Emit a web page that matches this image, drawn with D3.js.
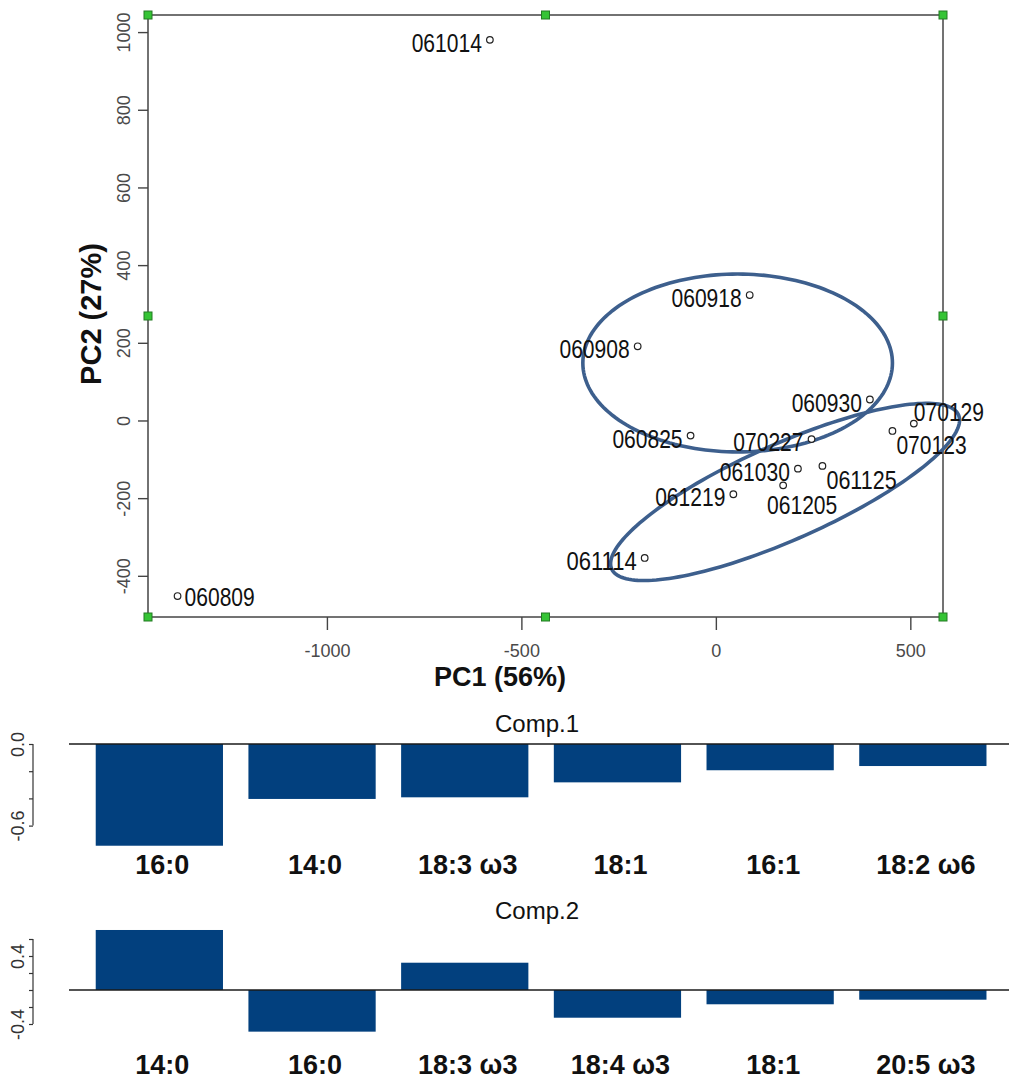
<!DOCTYPE html>
<html>
<head>
<meta charset="utf-8">
<script src="https://cdn.jsdelivr.net/npm/d3@7"></script>
<style>
  body { margin: 0; background: #fff; }
  svg { display: block; }
</style>
</head>
<body>
<svg id="chart" width="1009" height="1082"></svg>
<script>
// PCA scores per sampling date (yymmdd)
const samples = ["060809","060825","060908","060918","060930","061014","061030",
                 "061114","061125","061205","061219","070123","070129","070227"];
const pc1Scores = [-1384, -65, -201, 87, 396, -581, 211, -183, 274, 173, 45, 454, 509, 246];
const pc2Scores = [-452, -39, 191, 323, 54, 980, -124, -354, -117, -167, -190, -27, -8, -48];

// Axis limits and ticks of the score plot
const xLimits = [-1460, 584];
const yLimits = [-506, 1044];
const xTicks = [-1000, -500, 0, 500];
const yTicks = [-400, -200, 0, 200, 400, 600, 800, 1000];

// Group ellipses (data units): centre, semi-axes, rotation in degrees
const ellipseCx = [56, 178];
const ellipseCy = [148, -184];
const ellipseRx = [398, 488];
const ellipseRy = [229, 123];
const ellipseAngle = [0, 24];

// Loadings of the top six fatty acids on each component
const comp1Acids = ["16:0", "14:0", "18:3 ω3", "18:1", "16:1", "18:2 ω6"];
const comp1Loadings = [-0.748, -0.404, -0.392, -0.282, -0.193, -0.162];
const comp1Ticks = [0, -0.2, -0.4, -0.6];
const comp1TickLabels = ["0.0", "", "", "-0.6"];

const comp2Acids = ["14:0", "16:0", "18:3 ω3", "18:4 ω3", "18:1", "20:5 ω3"];
const comp2Loadings = [0.706, -0.49, 0.321, -0.326, -0.168, -0.114];
const comp2Ticks = [0.6, 0.4, 0.2, 0, -0.2, -0.4];
const comp2TickLabels = ["", "0.4", "", "", "", "-0.4"];

const svg = d3.select("#chart");
svg.append("rect").attr("width", 1009).attr("height", 1082).attr("fill", "#fff");

// ---------- score plot ----------
const plot = { left: 148, right: 943, top: 15, bottom: 617 };
const x = d3.scaleLinear().domain(xLimits).range([plot.left, plot.right]);
const y = d3.scaleLinear().domain(yLimits).range([plot.bottom, plot.top]);

const axisColor = "#444";
const tickFont = "'Liberation Sans', Arial, sans-serif";

const scatter = svg.append("g");

// x axis
const xAxis = scatter.append("g")
  .attr("transform", `translate(0,${plot.bottom})`)
  .call(d3.axisBottom(x).tickValues(xTicks).tickSize(13).tickPadding(14).tickFormat(d3.format("d")));
xAxis.select(".domain").remove();
xAxis.selectAll("line").attr("stroke", axisColor).attr("stroke-width", 1.4);
xAxis.selectAll("text").attr("fill", "#4a4a4a").attr("font-size", 18)
  .attr("font-family", tickFont).text(d => d < 0 ? "-" + Math.abs(d) : d);

// y axis with rotated labels
const yAxis = scatter.append("g")
  .attr("transform", `translate(${plot.left},0)`)
  .call(d3.axisLeft(y).tickValues(yTicks).tickSize(10).tickFormat(d => d < 0 ? "-" + Math.abs(d) : d));
yAxis.select(".domain").remove();
yAxis.selectAll("line").attr("stroke", axisColor).attr("stroke-width", 1.4);
yAxis.selectAll("text")
  .attr("fill", "#4a4a4a").attr("font-size", 18).attr("font-family", tickFont)
  .attr("x", null).attr("dy", null)
  .attr("text-anchor", "middle")
  .attr("transform", "translate(-24,0) rotate(-90)")
  .attr("dominant-baseline", "central");

// frame
scatter.append("rect")
  .attr("x", plot.left).attr("y", plot.top)
  .attr("width", plot.right - plot.left).attr("height", plot.bottom - plot.top)
  .attr("fill", "none").attr("stroke", axisColor).attr("stroke-width", 1.5);

// axis titles
scatter.append("text")
  .attr("x", 500).attr("y", 686)
  .attr("text-anchor", "middle")
  .attr("font-family", tickFont).attr("font-weight", "bold").attr("font-size", 27)
  .attr("fill", "#111").text("PC1 (56%)");
scatter.append("text")
  .attr("transform", "translate(101,314) rotate(-90)")
  .attr("text-anchor", "middle")
  .attr("font-family", tickFont).attr("font-weight", "bold").attr("font-size", 29)
  .attr("fill", "#111").text("PC2 (27%)");

// group ellipses
const ellipsePath = (cx, cy, rx, ry, deg) => {
  const th = deg * Math.PI / 180;
  const pts = d3.range(0, 2 * Math.PI, Math.PI / 90).map(t => {
    const u = rx * Math.cos(t), v = ry * Math.sin(t);
    return [x(cx + u * Math.cos(th) - v * Math.sin(th)),
            y(cy + u * Math.sin(th) + v * Math.cos(th))];
  });
  return d3.line().curve(d3.curveLinearClosed)(pts);
};
scatter.append("g").selectAll("path")
  .data(d3.range(ellipseCx.length))
  .join("path")
  .attr("d", i => ellipsePath(ellipseCx[i], ellipseCy[i], ellipseRx[i], ellipseRy[i], ellipseAngle[i]))
  .attr("fill", "none").attr("stroke", "#3d5f8d").attr("stroke-width", 3.6);

// sample points
const pts = samples.map((s, i) => ({ id: s, px: pc1Scores[i], py: pc2Scores[i] }));
scatter.append("g").selectAll("circle")
  .data(pts).join("circle")
  .attr("cx", d => x(d.px)).attr("cy", d => y(d.py)).attr("r", 3.3)
  .attr("fill", "#fff").attr("stroke", "#222").attr("stroke-width", 1.2);

// label placement around each point
const place = {
  w:  { anchor: "end",    dx: -8, dy: 3 },
  e:  { anchor: "start",  dx: 7,  dy: 1 },
  ne: { anchor: "start",  dx: 0,  dy: -12 },
  se: { anchor: "start",  dx: 4,  dy: 14 },
  s:  { anchor: "middle", dx: 19, dy: 20 }
};
const labelSide = { "060809": "e", "070129": "ne", "070123": "se", "061125": "se", "061205": "s" };
scatter.append("g").selectAll("text")
  .data(pts).join("text")
  .each(function (d) {
    const p = place[labelSide[d.id] || "w"];
    d3.select(this)
      .attr("x", x(d.px) + p.dx).attr("y", y(d.py) + p.dy)
      .attr("text-anchor", p.anchor);
  })
  .attr("dominant-baseline", "central")
  .attr("font-family", tickFont)
  .attr("font-size", 25).attr("fill", "#111")
  .attr("textLength", d => d.id.length * 11.7)
  .attr("lengthAdjust", "spacingAndGlyphs")
  .text(d => d.id);

// selection handles on the frame
const hx = [plot.left, (plot.left + plot.right) / 2, plot.right];
const hy = [plot.top, (plot.top + plot.bottom) / 2, plot.bottom];
const handles = [];
hx.forEach((a, i) => hy.forEach((b, j) => { if (!(i === 1 && j === 1)) handles.push([a, b]); }));
scatter.append("g").selectAll("rect")
  .data(handles).join("rect")
  .attr("x", d => d[0] - 4).attr("y", d => d[1] - 4)
  .attr("width", 8).attr("height", 8)
  .attr("fill", "#35c435").attr("stroke", "#237a23").attr("stroke-width", 1);

// ---------- loading bar charts ----------
const barColor = "#02407e";
const band = d3.scaleBand().range([83, 999.2]).paddingInner(1 / 6).paddingOuter(1 / 12);

function loadingPanel(title, titleY, acids, loadings, ticks, tickLabels, yScale, labelY) {
  const g = svg.append("g");
  const b = band.copy().domain(acids);
  const zero = yScale(0);

  g.append("text")
    .attr("x", 537).attr("y", titleY)
    .attr("text-anchor", "middle")
    .attr("font-family", tickFont).attr("font-size", 24).attr("fill", "#111")
    .text(title);

  g.selectAll("rect.bar")
    .data(acids).join("rect").attr("class", "bar")
    .attr("x", d => b(d))
    .attr("width", b.bandwidth())
    .attr("y", (d, i) => Math.min(zero, yScale(loadings[i])))
    .attr("height", (d, i) => Math.abs(yScale(loadings[i]) - zero))
    .attr("fill", barColor);

  g.append("line")
    .attr("x1", 69).attr("x2", 1009).attr("y1", zero).attr("y2", zero)
    .attr("stroke", "#1a1a1a").attr("stroke-width", 1.4);

  const ax = g.append("g")
    .attr("transform", "translate(33,0)")
    .call(d3.axisLeft(yScale).tickValues(ticks).tickSize(4).tickFormat((d, i) => tickLabels[i]));
  ax.select(".domain").attr("stroke", "#333").attr("stroke-width", 1.2)
    .attr("d", `M0,${yScale(ticks[0])}V${yScale(ticks[ticks.length - 1])}`);
  ax.selectAll("line").attr("stroke", "#333").attr("stroke-width", 1.2);
  ax.selectAll("text")
    .attr("fill", "#333").attr("font-size", 18).attr("font-family", tickFont)
    .attr("x", null).attr("dy", null)
    .attr("text-anchor", "middle").attr("dominant-baseline", "central")
    .attr("transform", "translate(-15,0) rotate(-90)");

  g.selectAll("text.acid")
    .data(acids).join("text").attr("class", "acid")
    .attr("x", d => b(d) + b.bandwidth() / 2 + 3)
    .attr("y", labelY)
    .attr("text-anchor", "middle")
    .attr("font-family", tickFont).attr("font-weight", "bold").attr("font-size", 27)
    .attr("fill", "#111")
    .text(d => d);
}

loadingPanel("Comp.1", 732, comp1Acids, comp1Loadings, comp1Ticks, comp1TickLabels,
  d3.scaleLinear().domain([0, -0.6]).range([744, 825.6]), 874);
loadingPanel("Comp.2", 919, comp2Acids, comp2Loadings, comp2Ticks, comp2TickLabels,
  d3.scaleLinear().domain([0.6, -0.4]).range([939, 1024]), 1074);
</script>
</body>
</html>
